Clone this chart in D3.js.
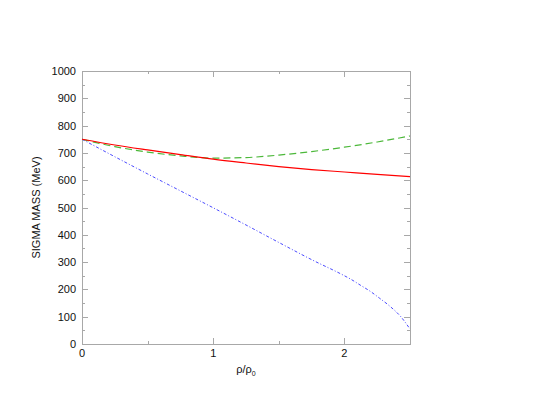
<!DOCTYPE html>
<html>
<head>
<meta charset="utf-8">
<script src="https://cdn.jsdelivr.net/npm/d3@7"></script>
<style>
body { margin: 0; background: #fff; }
text { font-family: "Liberation Sans", Arial, sans-serif; font-size: 11px; fill: #111; }
</style>
</head>
<body>
<div class="drawingArea"></div>
<script>
var width = 537;
var height = 415;

// rho / rho0 values for each curve
var redX = [0, 0.25, 0.5, 0.75, 1.0, 1.25, 1.5, 1.75, 2.0, 2.25, 2.5];
var redY = [750, 729, 711, 694, 677, 663, 650, 639, 630, 621, 613];

var greenX = [0, 0.25, 0.5, 0.75, 1.0, 1.25, 1.5, 1.75, 2.0, 2.25, 2.5];
var greenY = [750, 723, 703, 689, 681, 683, 692, 705, 721, 740, 762];

var blueX = [0, 0.25, 0.5, 0.75, 1.0, 1.25, 1.5, 1.75, 2.0, 2.05, 2.12, 2.2, 2.27, 2.35, 2.43, 2.5];
var blueY = [750, 686, 623, 561, 499, 436, 372, 309, 250, 237, 216, 192, 167, 137, 100, 55];

var xTicks = [0, 1, 2];
var xMinor = [0.5, 1.5];
var yTicks = [0, 100, 200, 300, 400, 500, 600, 700, 800, 900, 1000];

var margin = {left: 82, right: 127, top: 71, bottom: 71};

var x = d3.scaleLinear().domain([0, 2.5]).range([margin.left, width - margin.right]);
var y = d3.scaleLinear().domain([0, 1000]).range([height - margin.bottom, margin.top]);

var svg = d3.select(".drawingArea")
    .append("svg")
    .attr("width", width)
    .attr("height", height);

var frameColor = "#a8a8a8";

// ticks, mirrored on all four sides
var tickG = svg.append("g").attr("stroke", frameColor).attr("stroke-width", 1);
yTicks.forEach(function(v) {
    var yy = Math.round(y(v)) + 0.5;
    tickG.append("line").attr("x1", x(0)).attr("x2", x(0) + 6).attr("y1", yy).attr("y2", yy);
    tickG.append("line").attr("x1", x(2.5)).attr("x2", x(2.5) - 6).attr("y1", yy).attr("y2", yy);
    if (v < 1000) {
        var ym = Math.round(y(v + 50)) + 0.5;
        tickG.append("line").attr("x1", x(0)).attr("x2", x(0) + 3).attr("y1", ym).attr("y2", ym);
        tickG.append("line").attr("x1", x(2.5)).attr("x2", x(2.5) - 3).attr("y1", ym).attr("y2", ym);
    }
});
xTicks.forEach(function(v) {
    var xx = Math.round(x(v)) + 0.5;
    tickG.append("line").attr("x1", xx).attr("x2", xx).attr("y1", y(0)).attr("y2", y(0) - 6);
    tickG.append("line").attr("x1", xx).attr("x2", xx).attr("y1", y(1000)).attr("y2", y(1000) + 6);
});
xMinor.forEach(function(v) {
    var xx = Math.round(x(v)) + 0.5;
    tickG.append("line").attr("x1", xx).attr("x2", xx).attr("y1", y(0)).attr("y2", y(0) - 3);
    tickG.append("line").attr("x1", xx).attr("x2", xx).attr("y1", y(1000)).attr("y2", y(1000) + 3);
});

// frame
svg.append("rect")
    .attr("x", Math.round(x(0)) + 0.5)
    .attr("y", Math.round(y(1000)) + 0.5)
    .attr("width", Math.round(x(2.5)) - Math.round(x(0)))
    .attr("height", Math.round(y(0)) - Math.round(y(1000)))
    .attr("fill", "none")
    .attr("stroke", frameColor);

// tick labels
svg.selectAll("text.ylab")
    .data(yTicks)
    .enter()
    .append("text")
    .attr("class", "ylab")
    .attr("x", x(0) - 6)
    .attr("y", function(d) { return y(d) + 4; })
    .attr("text-anchor", "end")
    .text(function(d) { return d; });

svg.selectAll("text.xlab")
    .data(xTicks)
    .enter()
    .append("text")
    .attr("class", "xlab")
    .attr("x", function(d) { return x(d); })
    .attr("y", y(0) + 13)
    .attr("text-anchor", "middle")
    .text(function(d) { return d; });

// axis titles
svg.append("text")
    .attr("transform", "translate(40," + ((y(0) + y(1000)) / 2) + ") rotate(-90)")
    .attr("text-anchor", "middle")
    .text("SIGMA MASS (MeV)");

var xt = svg.append("text")
    .attr("x", (x(0) + x(2.5)) / 2)
    .attr("y", y(0) + 29)
    .attr("text-anchor", "middle");
xt.append("tspan").text("ρ/ρ");
xt.append("tspan").attr("dy", 3).style("font-size", "7px").text("0");

// curves
var line = d3.line()
    .x(function(d) { return x(d[0]); })
    .y(function(d) { return y(d[1]); })
    .curve(d3.curveMonotoneX);

svg.append("path")
    .datum(d3.zip(greenX, greenY))
    .attr("d", line)
    .attr("fill", "none")
    .attr("stroke", "#4cb83a")
    .attr("stroke-width", 1.2)
    .attr("stroke-dasharray", "7,4");

svg.append("path")
    .datum(d3.zip(blueX, blueY))
    .attr("d", line)
    .attr("fill", "none")
    .attr("stroke", "#4a4aff")
    .attr("stroke-width", 1)
    .attr("stroke-dasharray", "3,2,1,2");

svg.append("path")
    .datum(d3.zip(redX, redY))
    .attr("d", line)
    .attr("fill", "none")
    .attr("stroke", "#ff0000")
    .attr("stroke-width", 1.2);
</script>
</body>
</html>
